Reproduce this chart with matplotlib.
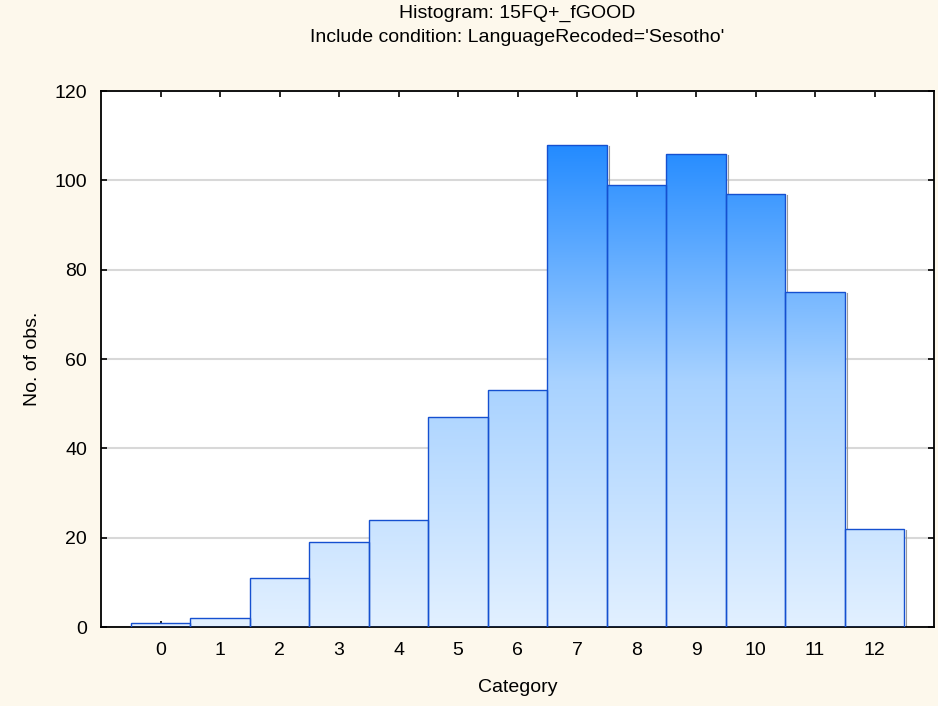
import numpy as np
from matplotlib import pyplot as plt
from matplotlib.colors import LinearSegmentedColormap

categories = list(range(13))
counts = [1, 2, 11, 19, 24, 47, 53, 108, 99, 106, 97, 75, 22]
title1 = "Histogram: 15FQ+_fGOOD"
title2 = "Include condition: LanguageRecoded='Sesotho'"

plt.rcParams['font.family'] = ['Liberation Sans', 'DejaVu Sans']

fig = plt.figure(figsize=(9.38, 7.06), dpi=100, facecolor="#fdf8ec")
ax = fig.add_axes([101 / 938, 1 - 627 / 706, (934 - 101) / 938, (627 - 91) / 706])
ax.set_facecolor("white")

cmap = LinearSegmentedColormap.from_list("blu", ["#e2f0ff", "#a8d2ff", "#1e88ff"])
grad = np.linspace(0, 1, 256).reshape(-1, 1)

ax.set_xlim(-1, 13)
ax.set_ylim(0, 120)

bars = ax.bar(categories, counts, width=1.0, color="none", edgecolor="#1550d0", linewidth=1.0, zorder=3)
for b in bars:
    im = ax.imshow(grad, cmap=cmap, origin="lower", extent=(-1, 13, 0, 110),
                   aspect="auto", zorder=2, vmin=0, vmax=1)
    im.set_clip_path(b)
    # small shadow on the right side
    x0 = b.get_x() + b.get_width()
    ax.plot([x0 + 0.03, x0 + 0.03], [0, b.get_height() - 0.3], color="#9a9a9a", lw=0.8, zorder=1.5)

ax.set_xlim(-1, 13)
ax.set_ylim(0, 120)
ax.set_yticks(range(0, 121, 20))
ax.set_xticks(categories)
ax.yaxis.grid(True, color="#d8d8d8", lw=1.5, zorder=0)
ax.set_axisbelow(True)
ax.tick_params(direction="in", length=4, width=1.2, top=True, right=True, labelsize=14)
ax.tick_params(axis="x", pad=11)
ax.tick_params(axis="y", pad=10)
for s in ax.spines.values():
    s.set_linewidth(1.3)

ax.set_xlabel("Category", fontsize=14, labelpad=14)
ax.set_ylabel("No. of obs.", fontsize=14, labelpad=10)
fig.text(517 / 938, 1 - 13 / 706, title1, ha="center", va="center", fontsize=14)
fig.text(517 / 938, 1 - 38 / 706, title2, ha="center", va="center", fontsize=14)

fig.savefig("out.png", dpi=100, facecolor=fig.get_facecolor())
